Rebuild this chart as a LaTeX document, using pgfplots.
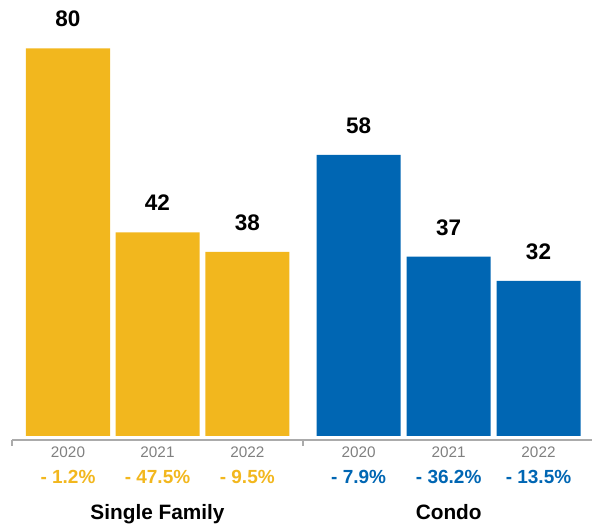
\documentclass[border=0pt]{standalone}
\usepackage{pgfplots}
\pgfplotsset{compat=1.18}
\usepackage{fontspec}
\setmainfont{Liberation Sans}
\definecolor{sfy}{HTML}{F2B71E}
\definecolor{cdb}{HTML}{0066B3}
\definecolor{axg}{HTML}{ABABAB}
\definecolor{yrg}{HTML}{808080}
\begin{document}
\begin{tikzpicture}
\begin{axis}[
  at={(0,0)}, anchor=south west,
  scale only axis, width=580pt, height=391.7pt,
  xmin=12, xmax=592, ymin=-0.83, ymax=80,
  axis x line*=bottom, axis y line=none,
  x axis line style={axg, line width=1.6pt, -},
  xtick={12,303}, xticklabels={},
  major tick length=6pt, tick align=outside,
  xtick style={axg, line width=1.2pt},
  ytick=\empty,
  clip=false,
  ybar, bar width=84, bar shift=0pt,
  /pgf/number format/assume math mode=true,
  nodes near coords,
  every node near coord/.append style={font=\fontsize{22.5}{22.5}\selectfont\bfseries, text=black, anchor=base, yshift=21.5pt},
]
\addplot[fill=sfy, draw=none] coordinates {(68,80) (157.5,42) (247.3,38)};
\addplot[fill=cdb, draw=none] coordinates {(358.7,58) (448.7,37) (538.5,32)};
% year labels
\node[anchor=base, yshift=-21.3pt, text=yrg, font=\fontsize{15.3}{15.3}\selectfont] at (axis cs:68,0) {2020};
\node[anchor=base, yshift=-21.3pt, text=yrg, font=\fontsize{15.3}{15.3}\selectfont] at (axis cs:157.5,0) {2021};
\node[anchor=base, yshift=-21.3pt, text=yrg, font=\fontsize{15.3}{15.3}\selectfont] at (axis cs:247.3,0) {2022};
\node[anchor=base, yshift=-21.3pt, text=yrg, font=\fontsize{15.3}{15.3}\selectfont] at (axis cs:358.7,0) {2020};
\node[anchor=base, yshift=-21.3pt, text=yrg, font=\fontsize{15.3}{15.3}\selectfont] at (axis cs:448.7,0) {2021};
\node[anchor=base, yshift=-21.3pt, text=yrg, font=\fontsize{15.3}{15.3}\selectfont] at (axis cs:538.5,0) {2022};
% percent labels
\node[anchor=base, yshift=-48pt, text=sfy, font=\fontsize{19}{19}\selectfont\bfseries] at (axis cs:68,0) {- 1.2\%};
\node[anchor=base, yshift=-48pt, text=sfy, font=\fontsize{19}{19}\selectfont\bfseries] at (axis cs:157.5,0) {- 47.5\%};
\node[anchor=base, yshift=-48pt, text=sfy, font=\fontsize{19}{19}\selectfont\bfseries] at (axis cs:247.3,0) {- 9.5\%};
\node[anchor=base, yshift=-48pt, text=cdb, font=\fontsize{19}{19}\selectfont\bfseries] at (axis cs:358.7,0) {- 7.9\%};
\node[anchor=base, yshift=-48pt, text=cdb, font=\fontsize{19}{19}\selectfont\bfseries] at (axis cs:448.7,0) {- 36.2\%};
\node[anchor=base, yshift=-48pt, text=cdb, font=\fontsize{19}{19}\selectfont\bfseries] at (axis cs:538.5,0) {- 13.5\%};
% group labels
\node[anchor=base, yshift=-84pt, text=black, font=\fontsize{20.8}{20.8}\selectfont\bfseries] at (axis cs:157.5,0) {Single Family};
\node[anchor=base, yshift=-84pt, text=black, font=\fontsize{20.8}{20.8}\selectfont\bfseries] at (axis cs:448.7,0) {Condo};
\end{axis}
\pgfresetboundingbox
\path (-12pt,-87pt) rectangle (580pt,440pt);
\end{tikzpicture}
\end{document}
